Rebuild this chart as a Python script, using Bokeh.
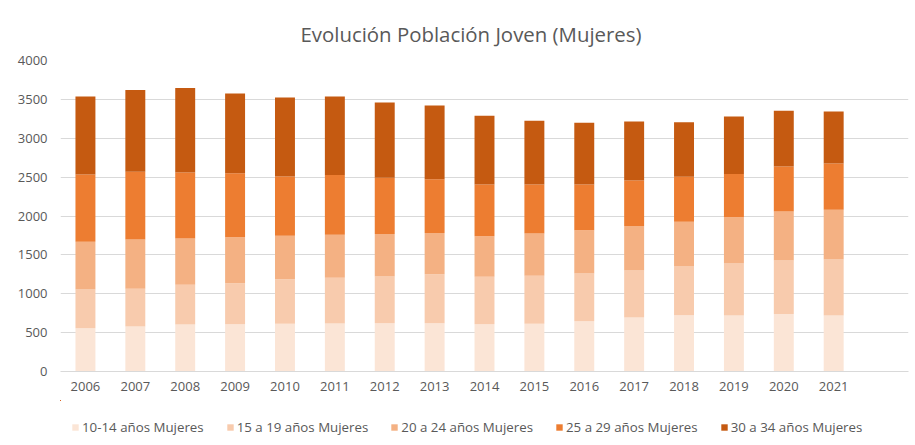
from bokeh.plotting import figure
from bokeh.layouts import column
from bokeh.models import ColumnDataSource, FixedTicker, Legend, Range1d, Title
from bokeh.embed import file_html
from bokeh.resources import INLINE

years = ["2006", "2007", "2008", "2009", "2010", "2011", "2012", "2013",
         "2014", "2015", "2016", "2017", "2018", "2019", "2020", "2021"]
series_names = ["10-14 años Mujeres", "15 a 19 años Mujeres", "20 a 24 años Mujeres",
                "25 a 29 años Mujeres", "30 a 34 años Mujeres"]
m10_14 = [557, 579, 605, 609, 613, 617, 622, 622, 609, 613, 647, 695, 725, 720, 738, 720]
m15_19 = [498, 484, 510, 527, 575, 588, 600, 630, 609, 618, 614, 604, 626, 669, 690, 721]
m20_24 = [613, 635, 596, 592, 557, 553, 545, 528, 523, 544, 557, 571, 574, 596, 630, 639]
m25_29 = [866, 871, 849, 823, 763, 768, 724, 694, 665, 631, 588, 587, 579, 554, 579, 596]
m30_34 = [1003, 1050, 1085, 1025, 1017, 1011, 969, 948, 883, 819, 793, 759, 703, 741, 716, 669]
colors = ["#FBE5D6", "#F8CBAD", "#F4B183", "#ED7D31", "#C55A11"]
y_ticks = [0, 500, 1000, 1500, 2000, 2500, 3000, 3500, 4000]

keys = ["m10_14", "m15_19", "m20_24", "m25_29", "m30_34"]
source = ColumnDataSource(dict(x=list(range(len(years))), m10_14=m10_14, m15_19=m15_19,
                               m20_24=m20_24, m25_29=m25_29, m30_34=m30_34))

TEXT = "#595959"
FONT = "Open Sans"

p = figure(width=910, height=400, output_backend="svg", toolbar_location=None,
           x_range=Range1d(-0.5, 16.5), y_range=Range1d(0, 4000),
           min_border_left=60, min_border_right=2, min_border_top=60, min_border_bottom=29)
p.title = Title(text="Evolución Población Joven (Mujeres)", align="left", offset=240,
                text_font=FONT, text_font_size="20.4px", text_font_style="normal",
                text_color=TEXT, standoff=26)

p.vbar_stack(keys, x="x", width=0.4, source=source, color=colors, line_width=0)

p.outline_line_color = None
p.xgrid.grid_line_color = None
p.ygrid.grid_line_color = "#D9D9D9"
p.ygrid.ticker = FixedTicker(ticks=y_ticks)

p.yaxis.ticker = FixedTicker(ticks=y_ticks)
p.yaxis.axis_line_color = None
p.yaxis.major_tick_line_color = None
p.yaxis.minor_tick_line_color = None
p.yaxis.major_tick_out = 0
p.yaxis.major_label_standoff = 13
p.yaxis.major_label_text_font = FONT
p.yaxis.major_label_text_font_size = "13px"
p.yaxis.major_label_text_color = TEXT

p.xaxis.ticker = FixedTicker(ticks=list(range(len(years))))
p.xaxis.major_label_overrides = {i: y for i, y in enumerate(years)}
p.xaxis.axis_line_color = "#D9D9D9"
p.xaxis.major_tick_line_color = None
p.xaxis.minor_tick_line_color = None
p.xaxis.major_label_standoff = 4
p.xaxis.major_label_text_font = FONT
p.xaxis.major_label_text_font_size = "13px"
p.xaxis.major_label_text_color = TEXT

# legend strip below the chart (same series, ranges chosen so that no bar falls in view)
lf = figure(width=910, height=40, output_backend="svg", toolbar_location=None,
            x_range=Range1d(200, 217), y_range=Range1d(-20000, -19999),
            x_axis_location=None, y_axis_location=None,
            min_border_left=60, min_border_right=2, min_border_top=0, min_border_bottom=0)
lf.outline_line_color = None
lf.xgrid.grid_line_color = None
lf.ygrid.grid_line_color = None
lrs = lf.vbar_stack(keys, x="x", width=0.4, source=source, color=colors, line_width=0)

legend = Legend(items=[(n, [r]) for n, r in zip(series_names, lrs)],
                orientation="horizontal", location=(11, 3),
                glyph_width=8, glyph_height=8, label_standoff=3, spacing=22,
                padding=0, margin=0, border_line_color=None, background_fill_alpha=0,
                label_text_font=FONT, label_text_font_size="13.3px",
                label_text_color=TEXT, label_height=20)
lf.add_layout(legend, "center")

layout = column(p, lf, spacing=0)
open("out.html", "w").write(file_html(layout, INLINE))
